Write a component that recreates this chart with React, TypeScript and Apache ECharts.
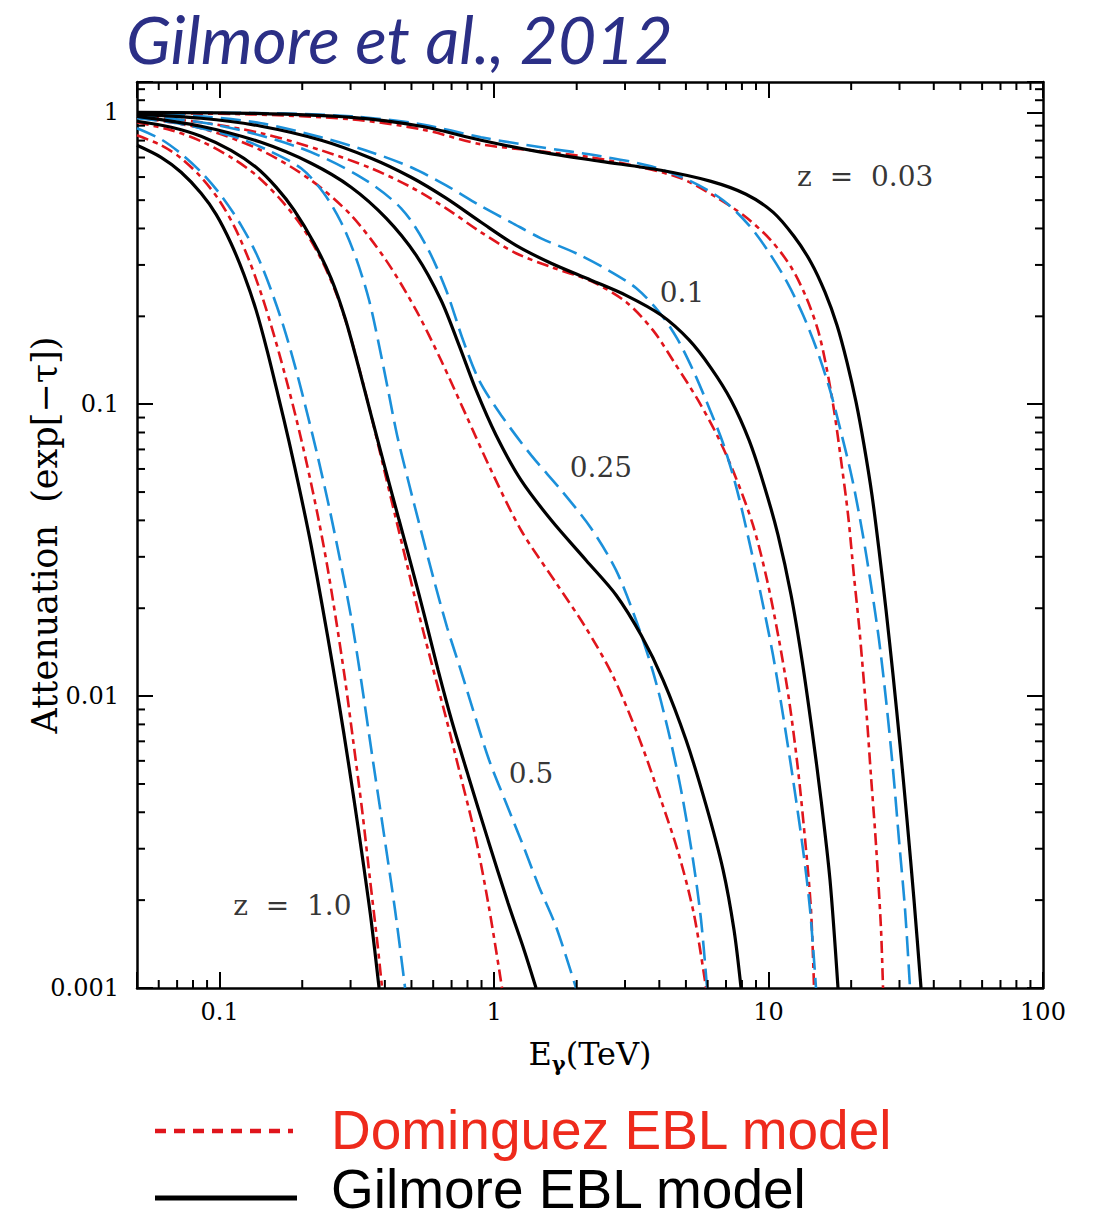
import React, { useEffect, useRef } from 'react';
import * as echarts from 'echarts';

// ---------------- axes ----------------
const X_MIN = 0.05;
const X_MAX = 100;
const Y_MIN = 0.001;
const Y_MAX = 1.27;

const xTickValues = [0.1, 1, 10, 100];
const xTickLabels = ['0.1', '1', '10', '100'];
const yTickValues = [0.001, 0.01, 0.1, 1];
const yTickLabels = ['0.001', '0.01', '0.1', '1'];

const xMinorTicks = [0.06, 0.07, 0.08, 0.09, 0.2, 0.3, 0.4, 0.5, 0.6, 0.7, 0.8, 0.9, 2, 3, 4, 5, 6, 7, 8, 9, 20, 30, 40, 50, 60, 70, 80, 90];
const yMinorTicks = [0.002, 0.003, 0.004, 0.005, 0.006, 0.007, 0.008, 0.009, 0.02, 0.03, 0.04, 0.05, 0.06, 0.07, 0.08, 0.09, 0.2, 0.3, 0.4, 0.5, 0.6, 0.7, 0.8, 0.9, 1.1, 1.2];

// ---------------- data: [E_gamma (TeV), exp(-tau)] ----------------
// z = 0.03
const gilmoreZ003 = [[0.05, 1.0], [0.1302, 0.992], [0.3013, 0.961], [0.5421, 0.896], [0.8968, 0.802], [1.483, 0.73], [2.454, 0.679], [4.058, 0.633], [6.174, 0.58], [8.279, 0.524], [10.38, 0.455], [12.38, 0.376], [14.28, 0.306], [16.06, 0.242], [17.76, 0.1865], [19.32, 0.1392], [20.84, 0.1016], [22.28, 0.0724], [23.82, 0.0488], [25.27, 0.0316], [26.8, 0.0197], [28.42, 0.0118], [30.14, 0.0068], [31.96, 0.00376], [33.89, 0.002], [35.94, 0.001]];
const dominguezZ003 = [[0.05, 0.992], [0.1302, 0.984], [0.3013, 0.946], [0.5421, 0.875], [0.8968, 0.777], [1.483, 0.735], [2.256, 0.701], [3.432, 0.648], [4.8, 0.594], [6.438, 0.512], [8.279, 0.437], [10.21, 0.364], [12.08, 0.295], [13.7, 0.233], [15.15, 0.179], [16.2, 0.136], [17.32, 0.0954], [18.37, 0.0643], [19.49, 0.0417], [20.49, 0.0256], [21.36, 0.0175], [22.1, 0.0121], [22.85, 0.00828], [23.63, 0.00528], [24.43, 0.00348], [25.06, 0.0024], [25.7, 0.00158], [26.13, 0.001]];
const blueZ003 = [[0.05, 0.998], [0.1302, 0.995], [0.3013, 0.969], [0.5421, 0.91], [0.8968, 0.821], [1.483, 0.759], [2.454, 0.707], [3.733, 0.653], [5.22, 0.58], [6.828, 0.5], [8.492, 0.41], [10.04, 0.331], [11.68, 0.262], [13.36, 0.202], [15.02, 0.153], [16.75, 0.1117], [18.37, 0.0802], [20.15, 0.0558], [21.91, 0.037], [23.63, 0.024], [25.27, 0.01555], [26.8, 0.00969], [28.42, 0.00558], [29.88, 0.00321], [31.44, 0.00185], [32.77, 0.001]];

// z = 0.1
const gilmoreZ01 = [[0.05, 0.984], [0.0856, 0.954], [0.1416, 0.896], [0.2344, 0.802], [0.3564, 0.696], [0.4984, 0.599], [0.6686, 0.508], [0.8968, 0.42], [1.202, 0.35], [1.614, 0.304], [2.256, 0.266], [3.026, 0.236], [4.058, 0.202], [5.133, 0.166], [6.174, 0.133], [7.302, 0.1032], [8.492, 0.0753], [9.63, 0.0528], [10.83, 0.0356], [12.08, 0.0222], [13.24, 0.0133], [14.4, 0.00765], [15.54, 0.0044], [16.75, 0.00234], [17.91, 0.001]];
const dominguezZ01 = [[0.05, 0.969], [0.0856, 0.924], [0.1416, 0.848], [0.2344, 0.741], [0.3564, 0.643], [0.4984, 0.554], [0.6686, 0.469], [0.8968, 0.388], [1.202, 0.329], [1.614, 0.295], [2.256, 0.264], [3.026, 0.224], [3.796, 0.179], [4.603, 0.136], [5.536, 0.1032], [6.546, 0.0771], [7.614, 0.0558], [8.779, 0.0385], [9.874, 0.025], [10.92, 0.01555], [11.88, 0.00969], [12.81, 0.00558], [13.7, 0.00297], [14.28, 0.00185], [14.65, 0.001]];
const blueZ01 = [[0.05, 0.992], [0.0856, 0.969], [0.1416, 0.917], [0.2344, 0.821], [0.3564, 0.73], [0.4984, 0.648], [0.6686, 0.562], [0.8968, 0.477], [1.153, 0.42], [1.483, 0.37], [1.989, 0.329], [2.602, 0.288], [3.29, 0.25], [3.992, 0.207], [4.642, 0.168], [5.309, 0.1307], [6.02, 0.0992], [6.828, 0.0735], [7.678, 0.0508], [8.561, 0.0329], [9.469, 0.0213], [10.38, 0.01382], [11.29, 0.00861], [12.29, 0.00516], [13.36, 0.00297], [14.17, 0.00185], [14.89, 0.001]];

// z = 0.25
const gilmoreZ025 = [[0.05, 0.969], [0.0856, 0.896], [0.1416, 0.789], [0.2154, 0.669], [0.3013, 0.554], [0.4042, 0.434], [0.5197, 0.324], [0.641, 0.227], [0.7456, 0.159], [0.86, 0.1117], [1.017, 0.0783], [1.254, 0.0549], [1.614, 0.0401], [2.163, 0.0292], [2.782, 0.0222], [3.432, 0.01618], [4.129, 0.01135], [5.006, 0.00707], [5.92, 0.00423], [6.828, 0.00254], [7.486, 0.00158], [7.94, 0.001]];
const dominguezZ025 = [[0.05, 0.961], [0.0856, 0.882], [0.1416, 0.741], [0.2154, 0.585], [0.3013, 0.444], [0.4042, 0.311], [0.5197, 0.21], [0.641, 0.1414], [0.7907, 0.0917], [0.9752, 0.0594], [1.254, 0.037], [1.683, 0.0244], [2.163, 0.0171], [2.713, 0.0117], [3.375, 0.00718], [4.058, 0.0044], [4.72, 0.00285], [5.354, 0.00178], [5.92, 0.001]];
const blueZ025 = [[0.05, 0.977], [0.0987, 0.903], [0.1981, 0.753], [0.3277, 0.599], [0.4584, 0.469], [0.5653, 0.35], [0.6686, 0.246], [0.7711, 0.1656], [0.8817, 0.1208], [1.061, 0.0917], [1.364, 0.0669], [1.754, 0.0508], [2.256, 0.0376], [2.782, 0.027], [3.29, 0.0182], [3.796, 0.01208], [4.305, 0.00765], [4.8, 0.00477], [5.309, 0.00274], [5.677, 0.00171], [5.97, 0.001]];

// z = 0.5
const gilmoreZ05 = [[0.05, 0.932], [0.0666, 0.889], [0.0856, 0.828], [0.11, 0.741], [0.1358, 0.648], [0.1606, 0.554], [0.1868, 0.462], [0.221, 0.356], [0.2548, 0.27], [0.2866, 0.197], [0.3196, 0.136], [0.3564, 0.0917], [0.4008, 0.0604], [0.4506, 0.0401], [0.5027, 0.0274], [0.5605, 0.0185], [0.6252, 0.01227], [0.7031, 0.00815], [0.804, 0.00536], [0.9509, 0.00321], [1.125, 0.00195], [1.286, 0.00135], [1.422, 0.001]];
const dominguezZ05 = [[0.05, 0.924], [0.0666, 0.868], [0.0856, 0.796], [0.11, 0.701], [0.1358, 0.609], [0.1675, 0.5], [0.1981, 0.41], [0.2304, 0.324], [0.2613, 0.25], [0.2914, 0.1865], [0.3222, 0.1328], [0.3564, 0.0917], [0.394, 0.0618], [0.4357, 0.0417], [0.4821, 0.0281], [0.5333, 0.01894], [0.5944, 0.01277], [0.6685, 0.00841], [0.7584, 0.00524], [0.8527, 0.00334], [0.9589, 0.00188], [1.069, 0.001]];
const blueZ05 = [[0.05, 0.954], [0.0666, 0.924], [0.0856, 0.882], [0.1148, 0.821], [0.1502, 0.741], [0.1981, 0.643], [0.2383, 0.532], [0.2771, 0.42], [0.3143, 0.316], [0.3505, 0.227], [0.3811, 0.159], [0.411, 0.1117], [0.4432, 0.0783], [0.4861, 0.0549], [0.5376, 0.0379], [0.5996, 0.0256], [0.6742, 0.0172], [0.752, 0.01247], [0.8385, 0.00896], [0.9589, 0.00604], [1.106, 0.0043], [1.265, 0.00314], [1.459, 0.00222], [1.683, 0.00162], [1.989, 0.001]];

// z = 1.0
const gilmoreZ1 = [[0.05, 0.771], [0.0612, 0.701], [0.0724, 0.623], [0.0856, 0.528], [0.0971, 0.447], [0.11, 0.356], [0.1228, 0.277], [0.1358, 0.21], [0.1489, 0.153], [0.1633, 0.1073], [0.1792, 0.0741], [0.1965, 0.05], [0.2154, 0.0329], [0.2363, 0.0205], [0.2591, 0.01247], [0.2842, 0.00735], [0.309, 0.0044], [0.3333, 0.0027], [0.3564, 0.00171], [0.3811, 0.001]];
const dominguezZ1 = [[0.05, 0.834], [0.0612, 0.771], [0.0724, 0.696], [0.0856, 0.599], [0.0996, 0.5], [0.1139, 0.401], [0.1281, 0.311], [0.1428, 0.234], [0.1579, 0.172], [0.1732, 0.1257], [0.19, 0.0896], [0.2084, 0.0618], [0.2285, 0.041], [0.2464, 0.0281], [0.2657, 0.0182], [0.2866, 0.01135], [0.3064, 0.00707], [0.3305, 0.00407], [0.3534, 0.00234], [0.3747, 0.00146], [0.3908, 0.001]];
const blueZ1 = [[0.05, 0.882], [0.0612, 0.808], [0.0736, 0.712], [0.0878, 0.609], [0.103, 0.508], [0.1198, 0.41], [0.1369, 0.324], [0.154, 0.246], [0.1718, 0.182], [0.19, 0.1307], [0.2084, 0.0932], [0.2285, 0.0653], [0.2506, 0.0444], [0.2748, 0.0292], [0.3013, 0.01865], [0.3277, 0.01135], [0.3594, 0.00628], [0.3974, 0.00334], [0.4357, 0.00185], [0.474, 0.001]];

const redshifts = ['0.03', '0.1', '0.25', '0.5', '1.0'];
const gilmoreCurves = [gilmoreZ003, gilmoreZ01, gilmoreZ025, gilmoreZ05, gilmoreZ1];
const dominguezCurves = [dominguezZ003, dominguezZ01, dominguezZ025, dominguezZ05, dominguezZ1];
const blueCurves = [blueZ003, blueZ01, blueZ025, blueZ05, blueZ1];

// in-plot labels (data coordinates of the label centres)
const annotationTexts = ['z\u00a0\u00a0=\u00a0\u00a00.03', '0.1', '0.25', '0.5', 'z\u00a0\u00a0=\u00a0\u00a01.0'];
const annotationE = [22.5, 4.84, 2.45, 1.364, 0.184];
const annotationA = [0.604, 0.242, 0.0609, 0.00545, 0.00191];

// ---------------- styles ----------------
const SERIF = '"DejaVu Serif", serif';
const BLACK = '#000000';
const RED = '#e0151c';
const BLUE = '#1b90da';
const TITLE_BLUE = '#2b2f86';
const LEGEND_RED = '#ee2a1c';

const tickFormatter = (vals: number[], labels: string[]) => (v: number) => {
  const l = Math.log10(v);
  for (let i = 0; i < vals.length; i++) {
    if (Math.abs(l - Math.log10(vals[i])) < 1e-6) return labels[i];
  }
  return '';
};

const axisCommon = {
  axisLine: { show: true, onZero: false, lineStyle: { color: BLACK, width: 2.5 } },
  axisTick: { show: true, inside: true, length: 16, lineStyle: { color: BLACK, width: 2 } },
  splitLine: { show: false },
};

const minorTickSeries = (isX: boolean) => ({
  type: 'custom',
  silent: true,
  clip: false,
  z: 5,
  data: (isX ? xMinorTicks : yMinorTicks).map((v) => (isX ? [v, 0.5] : [1, v])),
  renderItem: (params: any, api: any) => {
    const len = 8;
    const st = { stroke: BLACK, lineWidth: 2 };
    if (isX) {
      const v = api.value(0);
      const b = api.coord([v, Y_MIN]);
      const t = api.coord([v, Y_MAX]);
      return {
        type: 'group',
        children: [
          { type: 'line', shape: { x1: b[0], y1: b[1], x2: b[0], y2: b[1] - len }, style: st },
          { type: 'line', shape: { x1: t[0], y1: t[1], x2: t[0], y2: t[1] + len }, style: st },
        ],
      };
    }
    const v = api.value(1);
    const l = api.coord([X_MIN, v]);
    const r = api.coord([X_MAX, v]);
    return {
      type: 'group',
      children: [
        { type: 'line', shape: { x1: l[0], y1: l[1], x2: l[0] + len, y2: l[1] }, style: st },
        { type: 'line', shape: { x1: r[0], y1: r[1], x2: r[0] - len, y2: r[1] }, style: st },
      ],
    };
  },
});

const curveSeries: any[] = [];
redshifts.forEach((z, i) => {
  curveSeries.push({
    type: 'line',
    name: `Dominguez EBL model z=${z}`,
    data: dominguezCurves[i],
    showSymbol: false,
    symbol: 'none',
    smooth: 0.3,
    z: 3,
    lineStyle: { color: RED, width: 2.6, type: [12, 5, 5, 5] },
  });
  curveSeries.push({
    type: 'line',
    name: `Blue dashed EBL model z=${z}`,
    data: blueCurves[i],
    showSymbol: false,
    symbol: 'none',
    smooth: 0.3,
    z: 3,
    lineStyle: { color: BLUE, width: 2.6, type: [20, 8] },
  });
  curveSeries.push({
    type: 'line',
    name: `Gilmore EBL model z=${z}`,
    data: gilmoreCurves[i],
    showSymbol: false,
    symbol: 'none',
    smooth: 0.3,
    z: 4,
    lineStyle: { color: BLACK, width: 3.2, type: 'solid' },
  });
});

const option: any = {
  animation: false,
  backgroundColor: '#ffffff',
  grid: { left: 137, top: 82, width: 906, height: 906, containLabel: false, outerBoundsMode: 'none' },
  xAxis: [
    {
      type: 'log',
      logBase: 10,
      min: X_MIN,
      max: X_MAX,
      position: 'bottom',
      name: '{a|E}{b|γ}{a|(TeV)}',
      nameLocation: 'middle',
      nameGap: 46,
      nameMoveOverlap: false,
      nameTextStyle: {
        rich: {
          a: { fontFamily: SERIF, fontSize: 32, color: BLACK, lineHeight: 40 },
          b: { fontFamily: SERIF, fontSize: 21, fontWeight: 'bold', color: BLACK, lineHeight: 20, verticalAlign: 'bottom' },
        },
      },
      ...axisCommon,
      axisLabel: { show: true, margin: 12, fontFamily: SERIF, fontSize: 24, color: BLACK, formatter: tickFormatter(xTickValues, xTickLabels) },
    },
    {
      type: 'log',
      logBase: 10,
      min: X_MIN,
      max: X_MAX,
      position: 'top',
      ...axisCommon,
      axisLabel: { show: false },
    },
  ],
  yAxis: [
    {
      type: 'log',
      logBase: 10,
      min: Y_MIN,
      max: Y_MAX,
      position: 'left',
      name: 'Attenuation\u00a0\u00a0(exp[\u2212\u03c4])',
      nameLocation: 'middle',
      nameGap: 75,
      nameMoveOverlap: false,
      nameTextStyle: { fontFamily: SERIF, fontSize: 35, color: BLACK },
      ...axisCommon,
      axisLabel: { show: true, margin: 18, fontFamily: SERIF, fontSize: 24, color: BLACK, formatter: tickFormatter(yTickValues, yTickLabels) },
    },
    {
      type: 'log',
      logBase: 10,
      min: Y_MIN,
      max: Y_MAX,
      position: 'right',
      ...axisCommon,
      axisLabel: { show: false },
    },
  ],
  series: [
    ...curveSeries,
    minorTickSeries(true),
    minorTickSeries(false),
    {
      type: 'scatter',
      name: 'redshift labels',
      silent: true,
      z: 6,
      symbolSize: 2,
      itemStyle: { color: 'rgba(255,255,255,0)' },
      data: annotationTexts.map((t, i) => ({ value: [annotationE[i], annotationA[i]], name: t })),
      label: { show: true, position: 'inside', formatter: '{b}', fontFamily: SERIF, fontSize: 28, color: BLACK },
    },
  ],
  graphic: [
    {
      type: 'text',
      x: 126,
      y: 38,
      style: { text: 'Gilmore et al., 2012', font: 'italic 66px Lato', fill: TITLE_BLUE, textAlign: 'left', textVerticalAlign: 'middle', align: 'left', verticalAlign: 'middle' },
    },
    {
      type: 'line',
      shape: { x1: 155, y1: 1131, x2: 293, y2: 1131 },
      style: { stroke: RED, lineWidth: 4.5, lineDash: [11, 8] },
    },
    {
      type: 'text',
      x: 331,
      y: 1130,
      style: { text: 'Dominguez EBL model', font: '55px "Liberation Sans"', fill: LEGEND_RED, lineHeight: 48, textAlign: 'left', textVerticalAlign: 'middle', align: 'left', verticalAlign: 'middle' },
    },
    {
      type: 'line',
      shape: { x1: 155, y1: 1198, x2: 297, y2: 1198 },
      style: { stroke: BLACK, lineWidth: 5 },
    },
    {
      type: 'text',
      x: 331,
      y: 1189,
      style: { text: 'Gilmore EBL model', font: '55px "Liberation Sans"', fill: BLACK, lineHeight: 40, textAlign: 'left', textVerticalAlign: 'middle', align: 'left', verticalAlign: 'middle' },
    },
  ],
};

export default function App() {
  const ref = useRef<HTMLDivElement>(null);
  useEffect(() => {
    if (!ref.current) return;
    const chart = echarts.init(ref.current, null, { renderer: 'svg' });
    chart.setOption(option);
    return () => chart.dispose();
  }, []);
  return <div ref={ref} style={{ position: 'absolute', left: 0, top: 0, width: 1096, height: 1222, background: '#fff' }} />;
}
